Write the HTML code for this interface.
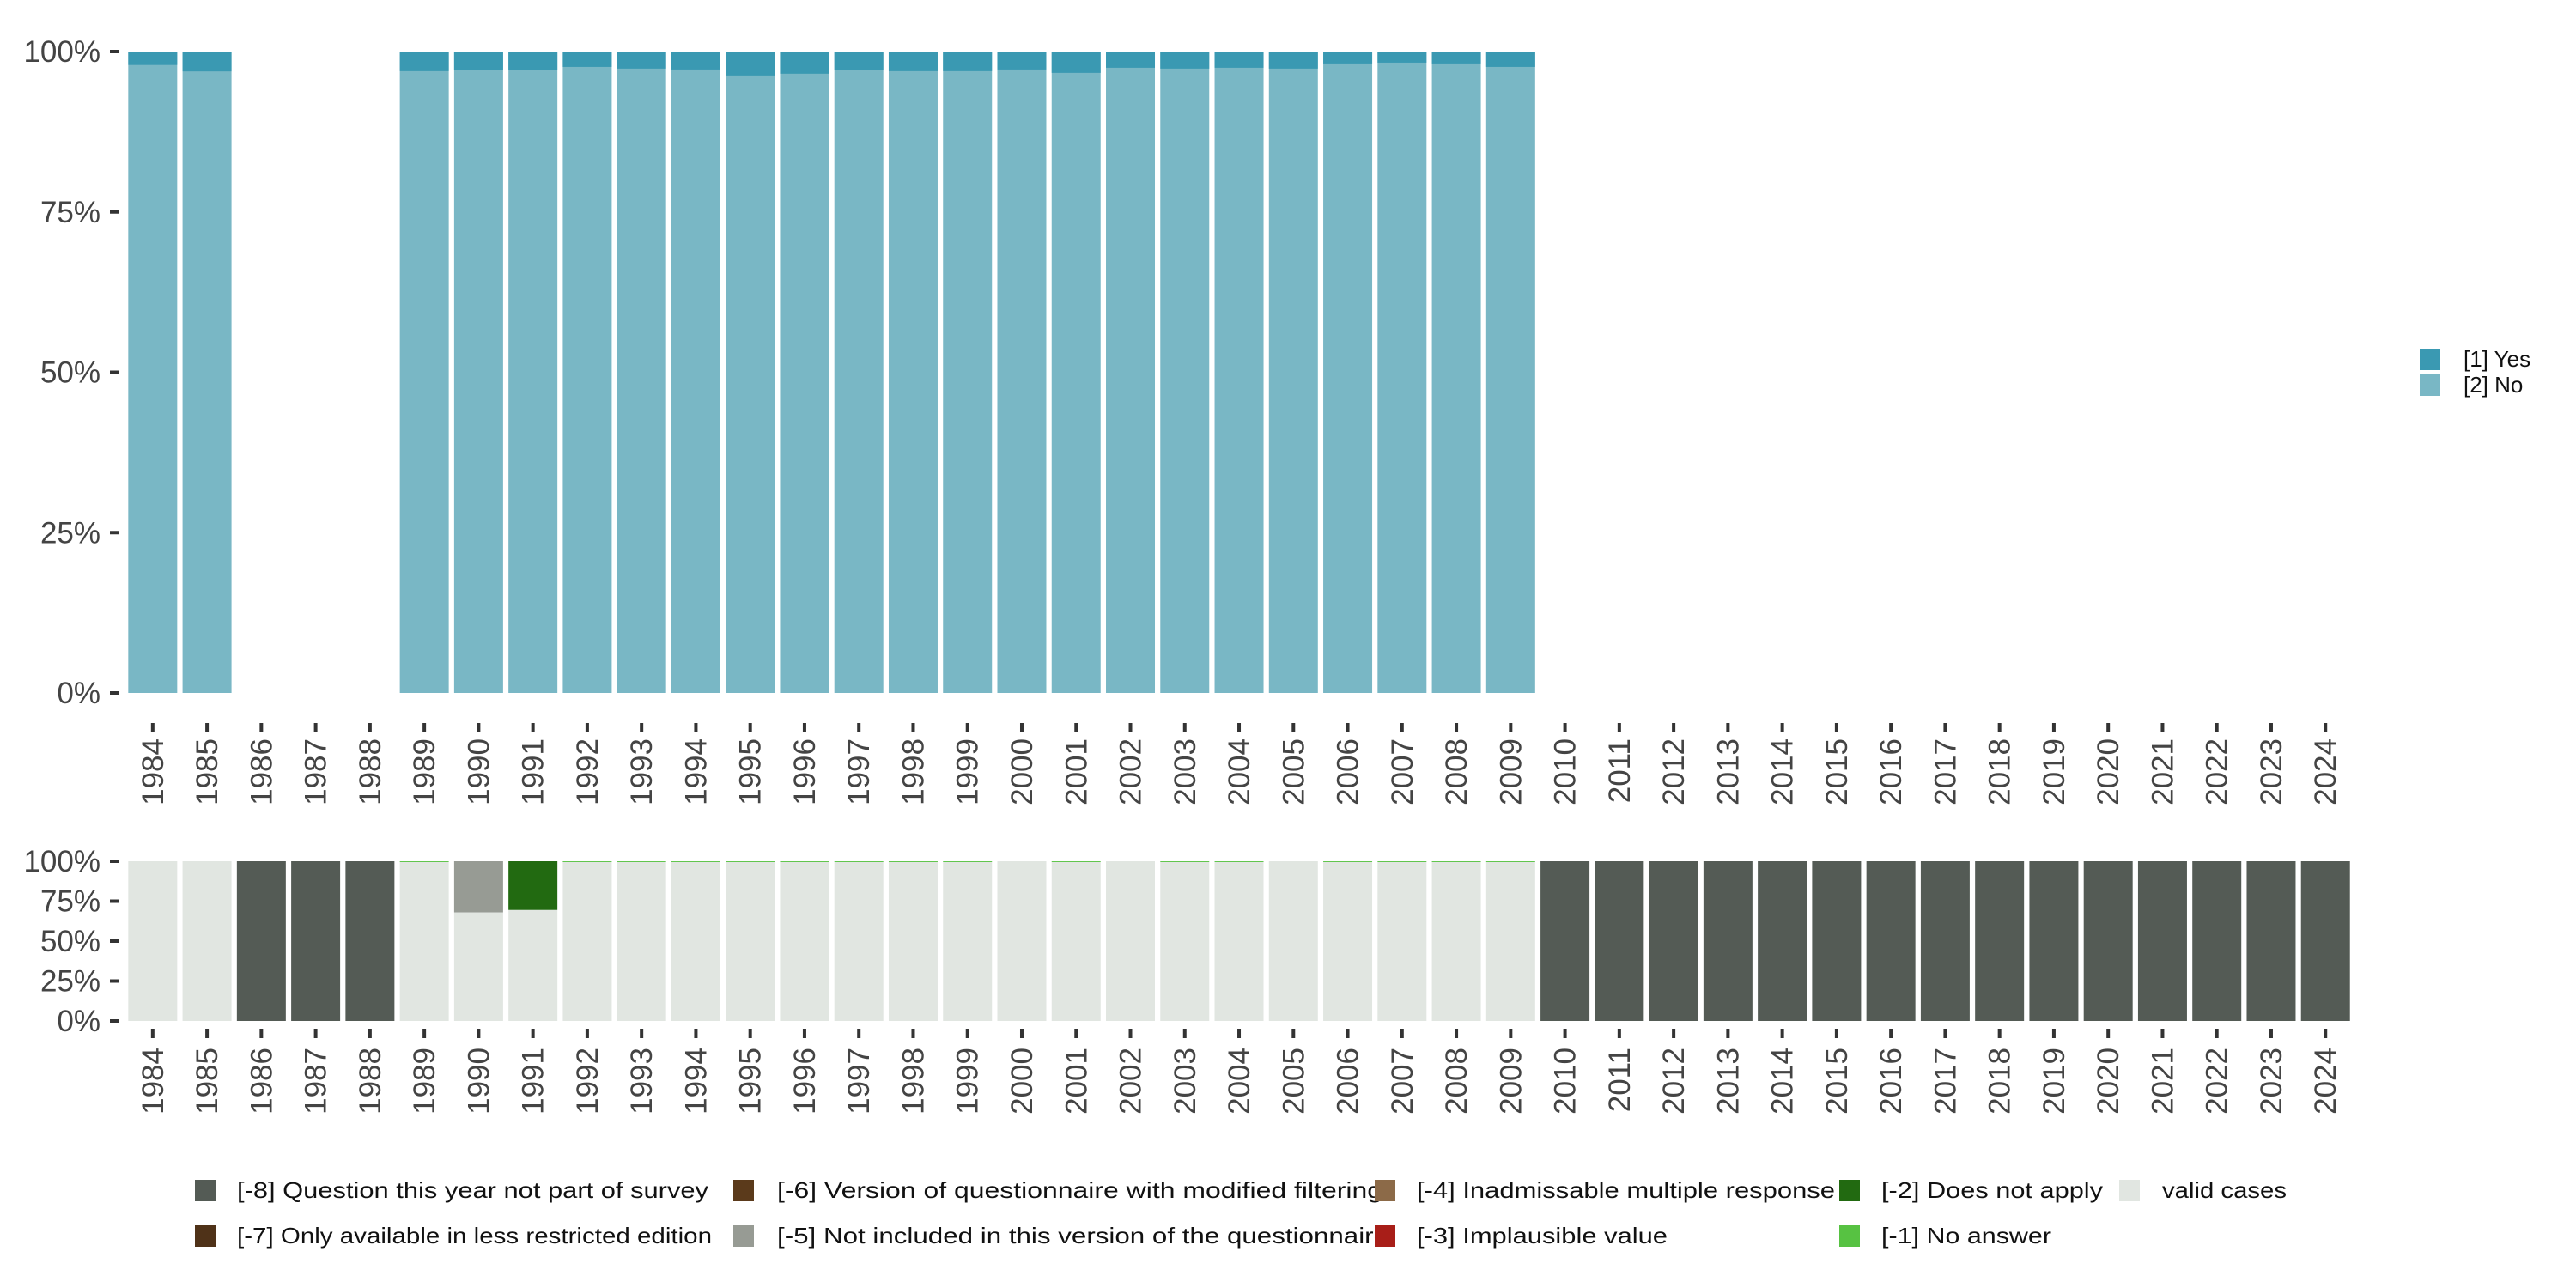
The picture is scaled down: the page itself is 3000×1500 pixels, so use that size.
<!DOCTYPE html>
<html><head><meta charset="utf-8"><style>
html,body{margin:0;padding:0;background:#fff;}
svg{display:block;font-family:"Liberation Sans",sans-serif;}
</style></head><body>
<svg id="chart" width="3000" height="1500" viewBox="0 0 3000 1500" xmlns="http://www.w3.org/2000/svg">
<g id="topPanel"></g>
<g id="botPanel"></g>
<g id="leg1"></g>
<g id="leg2"></g>
</svg>
<script>
const years = [];
for (let y = 1984; y <= 2024; y++) years.push(y);
const topYears = [1984,1985,1989,1990,1991,1992,1993,1994,1995,1996,1997,1998,1999,2000,2001,2002,2003,2004,2005,2006,2007,2008,2009];
const yesPct = [2.1,3.1,3.06,2.93,2.93,2.4,2.66,2.8,3.73,3.46,2.93,3.06,3.06,2.8,3.33,2.53,2.66,2.53,2.66,1.86,1.73,1.86,2.4];
const yTicks = [0,25,50,75,100];
const missYears8 = [1986,1987,1988,2010,2011,2012,2013,2014,2015,2016,2017,2018,2019,2020,2021,2022,2023,2024];
const miss5 = {1990: 32};
const miss2 = {1991: 30.5};
const noAnswerYears = [1989,1992,1993,1994,1995,1996,1997,1998,1999,2001,2003,2004,2006,2007,2008,2009];
const noAnswerPct = 0.5;

const NS = "http://www.w3.org/2000/svg";
function mk(tag, attrs, parent){const e=document.createElementNS(NS,tag);for(const k in attrs)e.setAttribute(k,attrs[k]);parent.appendChild(e);return e;}
const x0 = 146.2, pitch = 63.26, bw = 57;
function xc(y){return x0 + (y-1984)*pitch + pitch/2;}
function yT(p){return 807 - p/100*747;}
function yB(p){return 1189 - p/100*186;}

const topG = document.getElementById('topPanel');
topYears.forEach((yr,i)=>{
  const r1 = mk('rect',{x:xc(yr)-bw/2,y:yT(100),width:bw,height:yT(0)-yT(100),fill:'#79b7c5'},topG);
  
  
  const r2 = mk('rect',{x:xc(yr)-bw/2,y:yT(100),width:bw,height:yT(100-yesPct[i])-yT(100),fill:'#3a99b2'},topG);
  
  
});
function axes(g, yf, tickTop, labTop, prefix){
  yTicks.forEach(t=>{
    const l = mk('rect',{x:128,y:yf(t)-2,width:11,height:4,fill:'#333'},g);
    
    
    const tx = mk('text',{x:117,y:yf(t)+12,'text-anchor':'end','font-size':35,fill:'#444'},g);
    tx.textContent = t+'%';
    
    
  });
  years.forEach(yr=>{
    const l = mk('rect',{x:xc(yr)-2,y:tickTop,width:4,height:11,fill:'#333'},g);
    
    
    const tx = mk('text',{x:0,y:0,'text-anchor':'end','font-size':35,fill:'#444',transform:`translate(${xc(yr)+12},${labTop}) rotate(-90)`},g);
    tx.textContent = yr;
    
    
  });
}
axes(topG, yT, 842, 860, 'top-');

const botG = document.getElementById('botPanel');
years.forEach(yr=>{
  const x = xc(yr)-bw/2;
  let segs = [];
  if (missYears8.includes(yr)) segs.push([100,'#545b55','missing-8']);
  else {
    let cum = 0;
    if (miss5[yr]) { segs.push([miss5[yr],'#979b94','missing-5']); cum += miss5[yr]; }
    if (miss2[yr]) { segs.push([miss2[yr],'#226a11','missing-2']); cum += miss2[yr]; }
    if (noAnswerYears.includes(yr)) { segs.push([noAnswerPct,'#57c242','missing-1']); cum += noAnswerPct; }
    segs.unshift([100-cum,'#e1e6e1','valid']);
  }
  let base = 0;
  segs.forEach(s=>{
    const r = mk('rect',{x:x,y:yB(base+s[0]),width:bw,height:yB(base)-yB(base+s[0]),fill:s[1]},botG);
    
    
    base += s[0];
  });
});
axes(botG, yB, 1198, 1220, 'bottom-');

const leg1 = document.getElementById('leg1');
[['[1] Yes','#3a99b2',406],['[2] No','#79b7c5',436]].forEach(d=>{
  const r = mk('rect',{x:2818,y:d[2],width:24,height:25,fill:d[1]},leg1);
  
  
  const t = mk('text',{x:2869,y:d[2]+21,'font-size':26,fill:'#111'},leg1);
  t.textContent = d[0];
  
  
});

const leg2 = document.getElementById('leg2');
const items = [
  ['[-8] Question this year not part of survey','#545b55',227,276,1386,549],
  ['[-7] Only available in less restricted edition','#4f3218',227,276,1439,553],
  ['[-6] Version of questionnaire with modified filtering','#5b3a1b',854,905,1386,705],
  ['[-5] Not included in this version of the questionnaire','#979b94',854,905,1439,712],
  ['[-4] Inadmissable multiple response','#8c6a48',1601,1650,1386,487],
  ['[-3] Implausible value','#a81e18',1601,1650,1439,292],
  ['[-2] Does not apply','#226a11',2142,2191,1386,258],
  ['[-1] No answer','#57c242',2142,2191,1439,198],
  ['valid cases','#e1e6e1',2468,2518,1386,145]
];
items.forEach(d=>{
  const r = mk('rect',{x:d[2],y:d[4]-12,width:24,height:25,fill:d[1]},leg2);
  
  
  const t = mk('text',{x:d[3],y:d[4]+9,'font-size':26,fill:'#111',textLength:d[5],lengthAdjust:'spacingAndGlyphs'},leg2);
  t.textContent = d[0];
  
  
});
</script>
</body></html>
